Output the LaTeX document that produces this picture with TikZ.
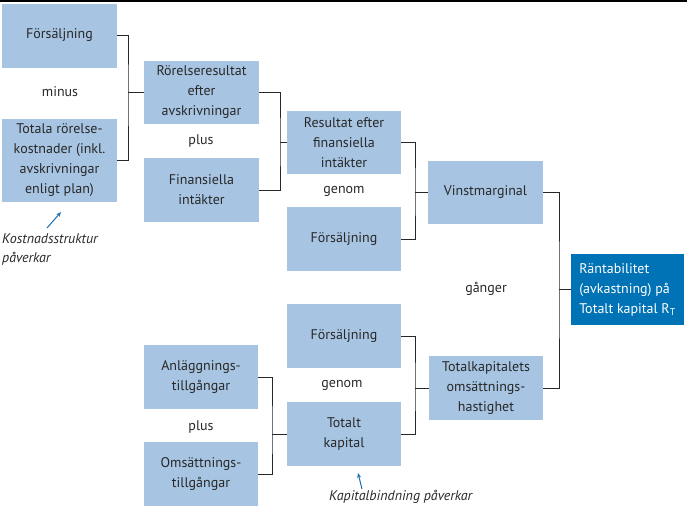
\documentclass[tikz,border=0pt]{standalone}
\usepackage{fontspec}
\setmainfont{PT Sans}
\usetikzlibrary{arrows.meta}
\definecolor{lb}{RGB}{167,197,226}
\definecolor{db}{RGB}{0,114,182}
\definecolor{tx}{RGB}{40,40,40}
\definecolor{ab}{RGB}{30,110,170}
\tikzset{
  bx/.style={fill=lb,text=tx,minimum width=115pt,minimum height=64pt,inner sep=0pt,align=center,font=\fontsize{14}{20}\selectfont},
  lab/.style={text=tx,inner sep=0pt,font=\fontsize{14}{20}\selectfont},
  con/.style={draw=tx,line width=0.9pt},
  note/.style={text=tx,inner sep=0pt,align=left,font=\fontsize{14}{18.5}\selectfont\itshape},
  parr/.style={draw=ab,line width=1pt,-{Stealth[length=5pt,width=4pt]}}
}
\begin{document}
\begin{tikzpicture}[x=1pt,y=-1pt]
\useasboundingbox (0,0) rectangle (687,515);
\draw[line width=2pt,black] (0,1) -- (687,1);
% boxes
\node[bx] (f1) at (59.5,35.5) {Försäljning};
\node[bx,minimum height=83pt] (tot) at (59.5,160.5) {Totala rörelse-\\kostnader (inkl.\\avskrivningar\\enligt plan)};
\node[bx,minimum height=63pt] (ror) at (201.5,92.5) {Rörelseresultat\\efter\\avskrivningar};
\node[bx] (fin) at (201.5,190) {Finansiella\\intäkter};
\node[bx,minimum width=114pt,minimum height=63pt] (res) at (344,142.5) {Resultat efter\\finansiella\\intäkter};
\node[bx,minimum width=114pt] (f2) at (344,239) {Försäljning};
\node[bx,minimum height=63pt] (vin) at (485.5,192.5) {Vinstmarginal};
\node[bx,fill=db,text=white,minimum width=113pt,minimum height=71pt,align=left] (rt) at (627.5,289.5) {Räntabilitet\\(avkastning) på\\Totalt kapital R\textsubscript{T}};
\node[bx,minimum width=114pt] (tkh) at (486,388) {Totalkapitalets\\omsättnings-\\hastighet};
\node[bx,minimum width=114pt] (f3) at (344,336) {Försäljning};
\node[bx,minimum width=114pt] (tk) at (344,434) {Totalt\\kapital};
\node[bx,minimum width=114pt] (anl) at (201,377) {Anläggnings-\\tillgångar};
\node[bx,minimum width=114pt] (oms) at (201,474) {Omsättnings-\\tillgångar};
% labels
\node[lab] (l1) at (60,92) {minus};
\node[lab] (l2) at (201,141) {plus};
\node[lab] (l3) at (344,191) {genom};
\node[lab] (l4) at (486,289) {gånger};
\node[lab] (l5) at (342,385) {genom};
\node[lab] (l6) at (201,427) {plus};
\node[note,anchor=west] (n1) at (2,249.5) {Kostnadsstruktur\\påverkar};
\node[note,anchor=west] (n2) at (329,497) {Kapitalbindning påverkar};
\coordinate (a1s) at (47,228);
\coordinate (a1e) at (61,212);
\coordinate (a2s) at (362,489);
\coordinate (a2e) at (358,473);
\draw[parr] (a1s) -- (a1e);
\draw[parr] (a2s) -- (a2e);
% junctions
\coordinate (j1) at (128,92.5);
\coordinate (j2) at (280,142.5);
\coordinate (j3) at (415,192.5);
\coordinate (j4) at (559,289.5);
\coordinate (j5) at (415,388);
\coordinate (j6) at (272,434);
\draw[con] (f1.east) -| (j1) |- (tot.east);
\draw[con] (j1) -- (ror.west);
\draw[con] (ror.east) -| (j2) |- (fin.east);
\draw[con] (j2) -- (res.west);
\draw[con] (res.east) -| (j3) |- (f2.east);
\draw[con] (j3) -- (vin.west);
\draw[con] (vin.east) -| (j4) |- (tkh.east);
\draw[con] (j4) -- (rt.west);
\draw[con] (f3.east) -| (j5) |- (tk.east);
\draw[con] (j5) -- (tkh.west);
\draw[con] (anl.east) -| (j6) |- (oms.east);
\draw[con] (j6) -- (tk.west);
\end{tikzpicture}
\end{document}
